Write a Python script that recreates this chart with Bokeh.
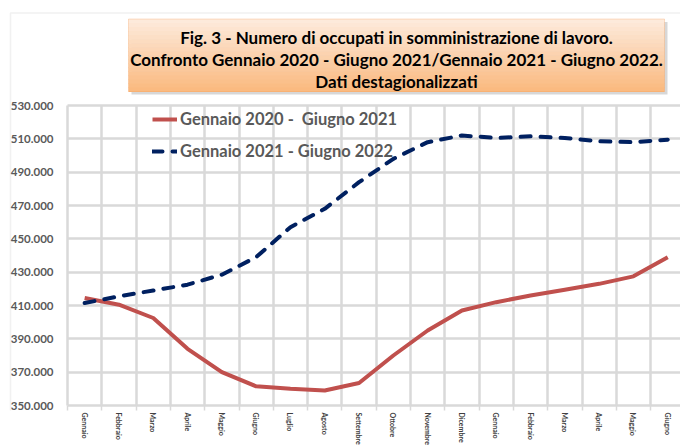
from bokeh.plotting import figure
from bokeh.models import FixedTicker, Legend, LegendItem, Label, BoxAnnotation
from bokeh.core.properties import value
from bokeh.embed import file_html
from bokeh.resources import INLINE

mesi = ["Gennaio", "Febbraio", "Marzo", "Aprile", "Maggio", "Giugno", "Luglio",
        "Agosto", "Settembre", "Ottobre", "Novembre", "Dicembre", "Gennaio",
        "Febbraio", "Marzo", "Aprile", "Maggio", "Giugno"]
serie_2020_2021 = [414500, 410500, 402500, 384000, 370000, 361500, 360000, 359000,
                   363500, 380000, 395000, 407000, 412000, 416000, 419500, 423000,
                   427500, 439000]
serie_2021_2022 = [411500, 415500, 419000, 422500, 428500, 439000, 457000, 468000,
                   484000, 498000, 508000, 512000, 510500, 511500, 510500, 508500,
                   508000, 509500]
y_ticks = [350000, 370000, 390000, 410000, 430000, 450000, 470000, 490000, 510000, 530000]
y_labels = [f"{v:,}".replace(",", ".") for v in y_ticks]
nome_1 = "Gennaio 2020 -  Giugno 2021"
nome_2 = "Gennaio 2021 - Giugno 2022"
titolo = ("Fig. 3 - Numero di occupati in somministrazione di lavoro.\n"
          "Confronto Gennaio 2020 - Giugno 2021/Gennaio 2021 - Giugno 2022.\n"
          "Dati destagionalizzati")

FONT = "Lato"
idx = list(range(len(mesi)))

# layout constants (pixels)
W, H = 680, 448
PLOT_LEFT = 67        # x of the first category boundary
PLOT_BOTTOM = 405     # y (from top) of the 350.000 line
FRAME_BOTTOM = 410    # y (from top) where the drawing frame ends
CAT_W = 34.3          # px per category
PX_PER_UNIT = 600.0   # values per px on the y axis
x_lo = -0.5
x_start = x_lo - PLOT_LEFT / CAT_W
x_end = x_lo + (W - PLOT_LEFT) / CAT_W
y_start = y_ticks[0] - (FRAME_BOTTOM - PLOT_BOTTOM) * PX_PER_UNIT
y_end = y_ticks[0] + PLOT_BOTTOM * PX_PER_UNIT

p = figure(width=W, height=H, x_range=(x_start, x_end), y_range=(y_start, y_end),
           output_backend="svg", toolbar_location=None, y_axis_location=None,
           min_border_left=0, min_border_right=0, min_border_top=0,
           min_border_bottom=H - FRAME_BOTTOM)
p.title = None
p.outline_line_color = None
p.background_fill_color = "white"
p.border_fill_color = "white"

# grids
bounds = [i - 0.5 for i in range(len(mesi) + 1)]
p.xgrid.ticker = FixedTicker(ticks=bounds)
p.xgrid.cross_bounds = (y_ticks[0], y_ticks[-1])
p.ygrid.ticker = FixedTicker(ticks=y_ticks)
p.ygrid.cross_bounds = (x_lo, x_end)
for g in (p.xgrid, p.ygrid):
    g.grid_line_color = "#d9d9d9"
    g.grid_line_width = 2.5

# x axis (labels only; small ticks at the category boundaries)
p.xaxis.bounds = (x_lo, x_end)
p.xaxis.ticker = FixedTicker(ticks=idx, minor_ticks=bounds)
p.xaxis.major_label_overrides = {i: m for i, m in zip(idx, mesi)}
p.xaxis.major_label_orientation = "vertical"
p.xaxis.major_tick_line_color = None
p.xaxis.major_tick_out = 0
p.xaxis.major_tick_in = 0
p.xaxis.minor_tick_line_color = "#d9d9d9"
p.xaxis.minor_tick_line_width = 1.5
p.xaxis.minor_tick_in = FRAME_BOTTOM - PLOT_BOTTOM
p.xaxis.minor_tick_out = 0
p.xaxis.axis_line_color = None
p.xaxis.major_label_text_font = FONT
p.xaxis.major_label_text_font_style = "bold"
p.xaxis.major_label_text_font_size = "7px"
p.xaxis.major_label_text_color = "#404040"
p.xaxis.major_label_standoff = 2

# y tick labels
p.text(x=[x_lo] * len(y_ticks), y=y_ticks, text=y_labels, x_offset=-14,
       text_align="right", text_baseline="middle", text_font=value(FONT),
       text_font_style="bold", text_font_size="11.5px", text_color="#595959")

r1 = p.line(idx, serie_2020_2021, line_color="#c0504d", line_width=4)
r2 = p.line(idx, serie_2021_2022, line_color="#002060", line_width=4,
            line_dash="10 10", line_cap="round")

legend = Legend(items=[LegendItem(label=nome_1, renderers=[r1]),
                       LegendItem(label=nome_2, renderers=[r2])],
                location=(152, FRAME_BOTTOM - 161), padding=0, margin=0, spacing=12,
                glyph_width=25, label_standoff=3,
                background_fill_alpha=0, border_line_color=None,
                label_text_font=FONT, label_text_font_style="bold",
                label_text_font_size="16.5px", label_text_color="#595959")
p.add_layout(legend)

def scr(top_px):
    # a y measured from the top of the page -> frame-relative screen units
    return FRAME_BOTTOM - top_px

def sbox(l, r, t, b, **kw):
    return BoxAnnotation(left=l, right=r, top=scr(t), bottom=scr(b),
                         left_units="screen", right_units="screen",
                         top_units="screen", bottom_units="screen", **kw)

# chart-area border (its right edge lies just past the picture, as in the original)
p.add_layout(sbox(10, W + 4, 12.5, FRAME_BOTTOM + 30,
                  fill_alpha=0, line_color="#cfcfcf", line_width=1.5))

# title box: shadow, gradient, border
bx0, bx1, by0, by1 = 128, 664, 18.5, 91
p.add_layout(sbox(bx0 + 3, bx1 + 3, by0 + 3, by1 + 3,
                  fill_color="#a6a6a6", fill_alpha=0.45, line_color=None))
c_top, c_bot = (253, 234, 219), (250, 186, 128)
n_band = 18
for k in range(n_band):
    t = k / (n_band - 1)
    col = "#%02x%02x%02x" % tuple(round(a + (b - a) * t) for a, b in zip(c_top, c_bot))
    t0 = by0 + (by1 - by0) * k / n_band
    t1 = by0 + (by1 - by0) * (k + 1) / n_band
    p.add_layout(sbox(bx0, bx1, t0, t1 + 0.5, fill_color=col, fill_alpha=1, line_color=None))
p.add_layout(sbox(bx0, bx1, by0, by1, fill_alpha=0, line_color="#f59d56", line_width=1))

p.add_layout(Label(x=(bx0 + bx1) / 2, y=scr(59), x_units="screen", y_units="screen",
                   text=titolo, text_align="center", text_baseline="middle",
                   text_font=FONT, text_font_style="bold", text_font_size="17px",
                   text_color="black", text_line_height=1.03))

open("out.html", "w").write(file_html(p, INLINE))
